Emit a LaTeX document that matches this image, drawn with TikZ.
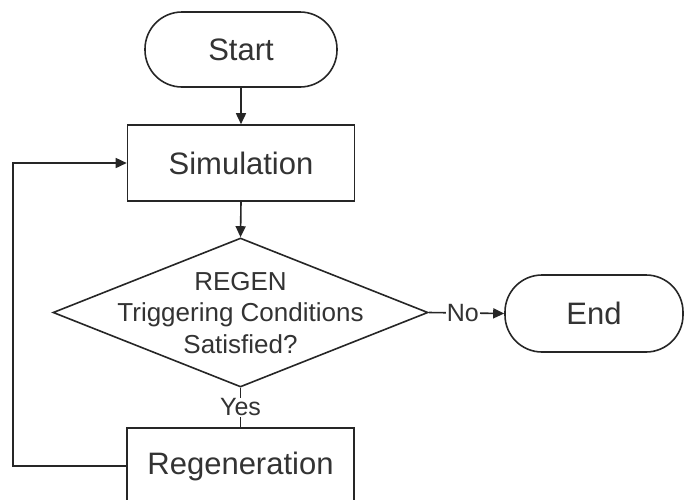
\documentclass[tikz,border=0pt]{standalone}
\usepackage{fontspec}
\setmainfont{Liberation Sans}
\usetikzlibrary{arrows.meta,shapes.geometric}
\begin{document}
\begin{tikzpicture}[x=1pt,y=-1pt,
  line/.style={draw=black!85, line width=1.6pt},
  arr/.style={line, -{Triangle[length=11pt,width=10pt]}},
  term/.style={draw=black!85, line width=1.6pt, rounded corners=37pt, inner sep=0pt,
    font=\fontsize{31}{36}\selectfont, text=black!80},
  proc/.style={draw=black!85, line width=1.6pt, inner sep=0pt, minimum width=227pt, minimum height=76pt,
    font=\fontsize{31}{36}\selectfont, text=black!80},
  lbl/.style={fill=white, inner sep=1pt, font=\fontsize{25}{28}\selectfont, text=black!80}]
\useasboundingbox (0,0) rectangle (685,499);
\fill[white] (0,0) rectangle (685,499);
\node[term, minimum width=192pt, minimum height=75pt] (start) at (241,49.5) {Start};
\node[proc] (sim) at (241,163) {Simulation};
\node[draw=black!85, line width=1.6pt, diamond, inner sep=0pt, minimum width=375pt, minimum height=149pt] (dec) at (240.5,312.5) {};
\node[align=center, font=\fontsize{26}{31.5}\selectfont, text=black!80] (dectext) at (240.5,313) {REGEN\\Triggering Conditions\\Satisfied?};
\node[term, minimum width=178pt, minimum height=77pt] (end) at (594,313.5) {End};
\node[proc] (regen) at (240.5,466) {Regeneration};
\coordinate (c1) at (13,466);
\coordinate (c2) at (13,163);
\draw[arr] (start.south) -- (sim.north);
\draw[arr] (sim.south) -- (dec.north);
\draw[arr] (dec.east) -- node[lbl, pos=0.45] (no) {No} (end.west);
\draw[line] (dec.south) -- node[lbl, pos=0.5] (yes) {Yes} (regen.north);
\draw[arr] (regen.west) -- (c1) -- (c2) -- (sim.west);
\end{tikzpicture}
\end{document}
